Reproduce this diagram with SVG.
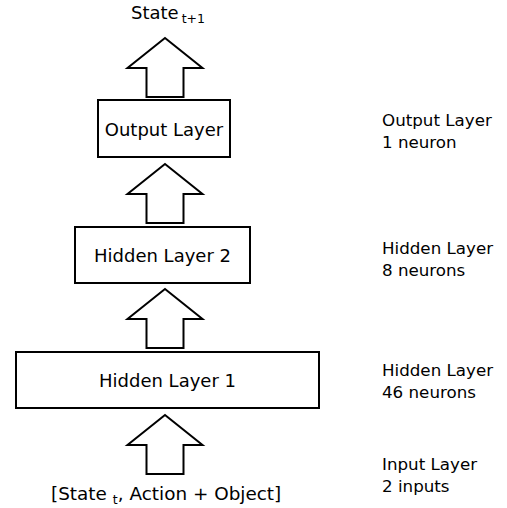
<svg xmlns="http://www.w3.org/2000/svg" width="507" height="508" viewBox="0 0 507 508">
<defs>
<style>
.box{fill:#fff;stroke:#000;stroke-width:2}
.arr{fill:#fff;stroke:#000;stroke-width:2;stroke-linejoin:miter}
.t{font-family:"DejaVu Sans",sans-serif;font-size:18px;fill:#000}
.lbl{font-family:"DejaVu Sans",sans-serif;font-size:16.7px;fill:#000}
.sub{font-size:12.5px}
</style>
<path id="arrow" d="M0,0 L37.5,30 L18.5,30 L18.5,59 L-18.5,59 L-18.5,30 L-37.5,30 Z"/>
</defs>
<rect width="507" height="508" fill="#fff"/>
<g id="connectors">
<use href="#arrow" class="arr" x="165" y="38"/>
<use href="#arrow" class="arr" x="165" y="164"/>
<use href="#arrow" class="arr" x="165" y="289"/>
<use href="#arrow" class="arr" x="165" y="415"/>
</g>
<g id="state_next">
<text class="t" x="131" y="19">State<tspan class="sub" dx="3" dy="4">t+1</tspan></text>
</g>
<g id="output_layer">
<rect class="box" x="98" y="100" width="132" height="57"/>
<text class="t" x="164" y="136" text-anchor="middle">Output Layer</text>
</g>
<g id="hidden_layer_2">
<rect class="box" x="75" y="227" width="175" height="56"/>
<text class="t" x="162.5" y="262" text-anchor="middle">Hidden Layer 2</text>
</g>
<g id="hidden_layer_1">
<rect class="box" x="16" y="352" width="303" height="56"/>
<text class="t" x="167.5" y="387" text-anchor="middle">Hidden Layer 1</text>
</g>
<g id="input">
<text class="t" x="51" y="500" style="font-size:18.4px">[State<tspan class="sub" dx="6" dy="4">t</tspan><tspan dy="-4">, Action + Object]</tspan></text>
</g>
<g id="labels">
<text class="lbl" x="382" y="126">Output Layer</text>
<text class="lbl" x="382" y="148">1 neuron</text>
<text class="lbl" x="382" y="254">Hidden Layer</text>
<text class="lbl" x="382" y="276">8 neurons</text>
<text class="lbl" x="382" y="376">Hidden Layer</text>
<text class="lbl" x="382" y="398">46 neurons</text>
<text class="lbl" x="382" y="470">Input Layer</text>
<text class="lbl" x="382" y="492">2 inputs</text>
</g>
</svg>
